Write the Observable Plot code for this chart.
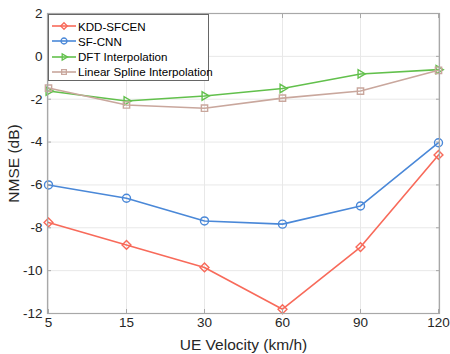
<!DOCTYPE html>
<html><head><meta charset="utf-8">
<script src="https://cdn.jsdelivr.net/npm/d3@7"></script>
<script src="https://cdn.jsdelivr.net/npm/@observablehq/plot@0.6"></script>
<style>
body{margin:0;background:#fff;font-family:"Liberation Sans",Arial,sans-serif;}
#wrap{position:relative;width:450px;height:354px;}
#legend{position:absolute;left:48px;top:14px;width:161px;height:67px;border:1px solid #666;background:#fff;font-size:11.6px;color:#000;box-sizing:border-box;}
#legend .row{position:absolute;left:2px;height:14px;display:flex;align-items:center;white-space:nowrap;}
</style></head>
<body><div id="wrap"><div id="legend"></div></div>
<script>
const velocities = ["5","15","30","60","90","120"];
const seriesNames = ["KDD-SFCEN","SF-CNN","DFT Interpolation","Linear Spline Interpolation"];
const kdd = [-7.75,-8.8,-9.85,-11.8,-8.9,-4.6];
const sfcnn = [-6.0,-6.62,-7.68,-7.83,-6.98,-4.03];
const dft = [-1.62,-2.08,-1.85,-1.5,-0.82,-0.62];
const spline = [-1.48,-2.27,-2.42,-1.95,-1.62,-0.65];
const colors = ["#f86a5a","#4a88d8","#62c04c","#c9a79d"];
const symbols = ["diamond2","circle","triangle2","square2"];
const rotates = [0,0,90,0];
const yTicks = [-12,-10,-8,-6,-4,-2,0,2];

const all = [kdd,sfcnn,dft,spline];
const data = [];
seriesNames.forEach((s,i)=>velocities.forEach((v,j)=>data.push({s,v,y:all[i][j],i})));

const marks = [
  Plot.gridX({stroke:"#e8e8e8",strokeOpacity:1}),
  Plot.gridY(yTicks,{stroke:"#e8e8e8",strokeOpacity:1}),
];
seriesNames.forEach((s,i)=>{
  const d = data.filter(r=>r.s===s);
  marks.push(Plot.line(d,{x:"v",y:"y",stroke:colors[i],strokeWidth:1.6}));
  marks.push(Plot.dot(d,{x:"v",y:"y",stroke:colors[i],fill:"none",symbol:symbols[i],rotate:rotates[i],r:4,strokeWidth:1.4}));
});
marks.push(Plot.frame({stroke:"#a8a8a8",strokeWidth:1.2}));
marks.push(Plot.axisX({tickSize:-4,stroke:"#a8a8a8",fontSize:13.5,tickPadding:8,label:"UE Velocity (km/h)",labelAnchor:"center",labelArrow:"none",labelOffset:36,color:"#262626"}));
marks.push(Plot.axisX({anchor:"top",tickSize:-4,stroke:"#a8a8a8",tickFormat:()=>"",label:null}));
marks.push(Plot.axisY(yTicks,{tickSize:-4,stroke:"#a8a8a8",fontSize:13.5,tickPadding:9,label:"NMSE (dB)",labelAnchor:"center",labelArrow:"none",labelOffset:40,color:"#262626",tickFormat:d=>d<0?"-"+Math.abs(d):String(d)}));
marks.push(Plot.axisY(yTicks,{anchor:"right",tickSize:-4,stroke:"#a8a8a8",tickFormat:()=>"",label:null}));

const chart = Plot.plot({
  width:450,height:354,
  marginLeft:47,marginRight:11,marginTop:13,marginBottom:41,
  style:{fontFamily:"Liberation Sans, Arial, sans-serif",fontSize:"13.5px",color:"#262626",background:"#fff"},
  x:{type:"point",domain:velocities,padding:0},
  y:{domain:[-12,2]},
  marks
});
chart.querySelectorAll('[aria-label="x-axis label"] text, [aria-label="y-axis label"] text').forEach(t=>t.setAttribute("font-size","15.5"));
document.getElementById("wrap").prepend(chart);

const legend = document.getElementById("legend");
const ns="http://www.w3.org/2000/svg";
const legendSymbols=[d3.symbolDiamond2,d3.symbolCircle,d3.symbolTriangle2,d3.symbolSquare2];
seriesNames.forEach((s,i)=>{
  const row=document.createElement("div");row.className="row";row.style.top=(4+i*15.3)+"px";
  const sv=document.createElementNS(ns,"svg");sv.setAttribute("width","26");sv.setAttribute("height","14");
  const ln=document.createElementNS(ns,"line");
  ln.setAttribute("x1","1");ln.setAttribute("x2","25");ln.setAttribute("y1","7");ln.setAttribute("y2","7");
  ln.setAttribute("stroke",colors[i]);ln.setAttribute("stroke-width","1.6");sv.appendChild(ln);
  const p=document.createElementNS(ns,"path");
  p.setAttribute("d",d3.symbol(legendSymbols[i],28)());
  p.setAttribute("transform","translate(13,7) rotate("+rotates[i]+")");
  p.setAttribute("fill","none");p.setAttribute("stroke",colors[i]);p.setAttribute("stroke-width","1.3");
  sv.appendChild(p);
  row.appendChild(sv);
  const tx=document.createElement("span");tx.textContent=s;tx.style.marginLeft="1px";
  row.appendChild(tx);legend.appendChild(row);
});
</script></body></html>
